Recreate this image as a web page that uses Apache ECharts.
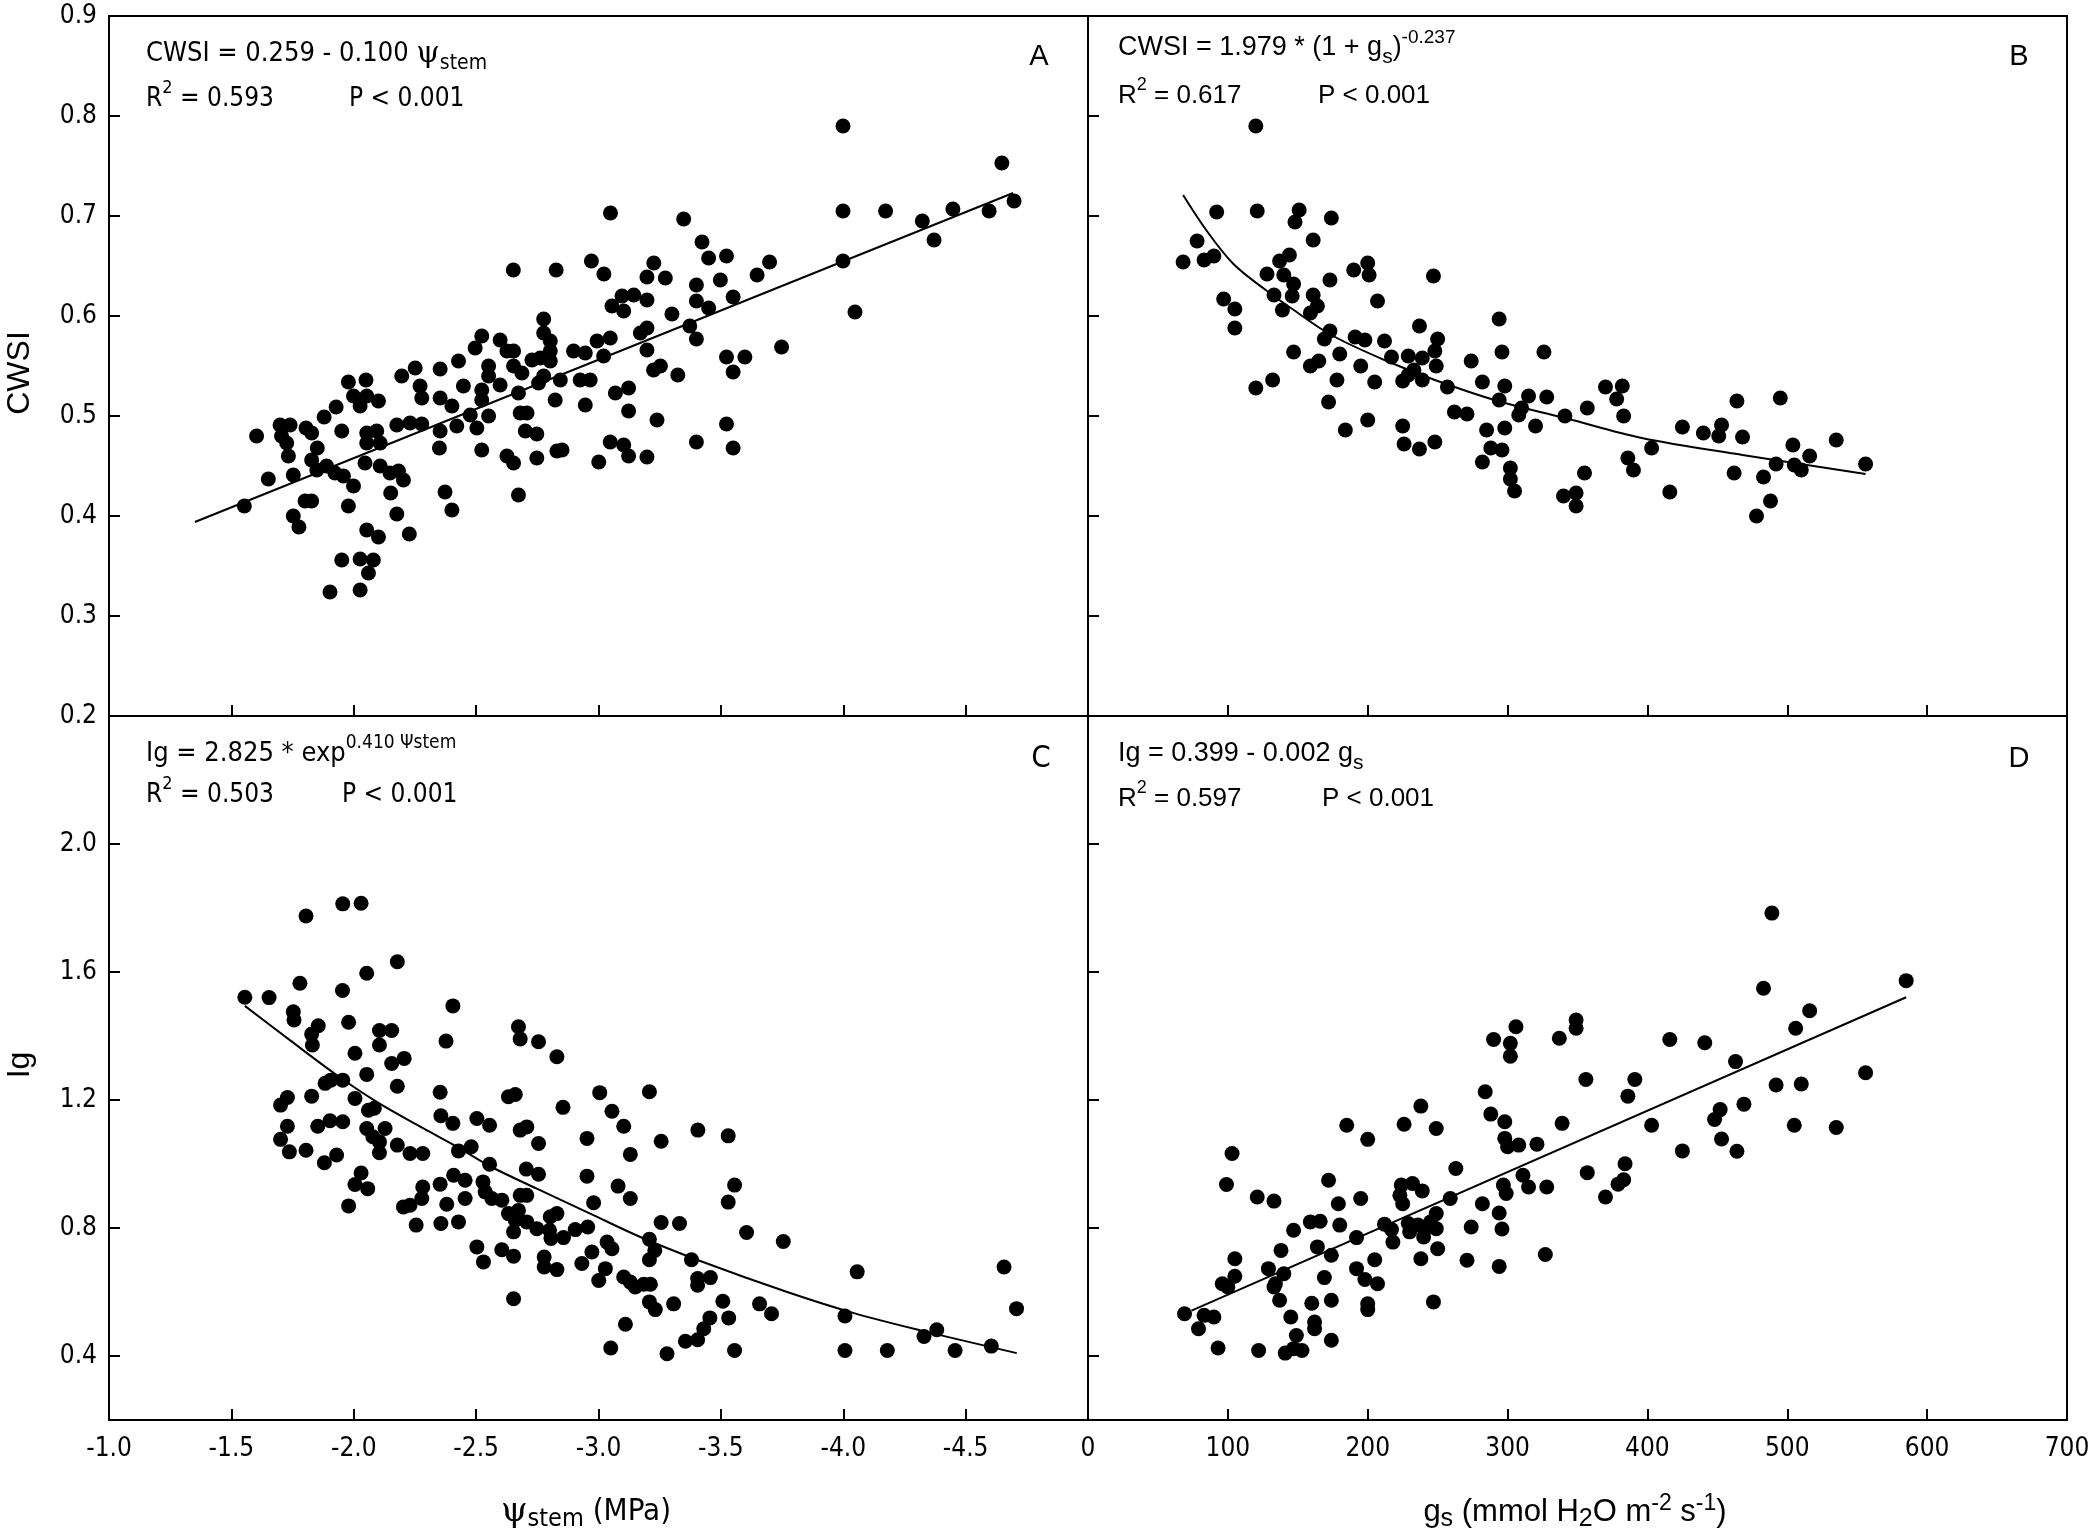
<!DOCTYPE html>
<html>
<head>
<meta charset="utf-8">
<title>CWSI and Ig vs stem water potential and stomatal conductance</title>
<script src="https://cdn.jsdelivr.net/npm/echarts@6/dist/echarts.min.js"></script>
<style>
html, body { margin: 0; padding: 0; background: #fff; }
#allchart { width: 2088px; height: 1536px; }
</style>
</head>
<body>
<div id="allchart"></div>
<script>
// ---- data ----
// A: CWSI vs stem water potential (MPa)
var ptsA = [
  [-1.553,0.410],[-1.603,0.480],[-1.651,0.437],[-1.699,0.491],[-1.705,0.480],[-1.726,0.473],[-1.740,0.491],[-1.733,0.460],
  [-1.753,0.441],[-1.753,0.400],[-1.776,0.389],[-1.801,0.415],[-1.828,0.415],[-1.805,0.488],[-1.828,0.483],[-1.851,0.468],
  [-1.828,0.456],[-1.849,0.446],[-1.879,0.499],[-1.889,0.450],[-1.928,0.509],[-1.951,0.485],[-1.923,0.443],[-1.958,0.440],
  [-1.978,0.410],[-1.951,0.356],[-1.903,0.324],[-1.978,0.534],[-1.999,0.520],[-2.026,0.510],[-2.050,0.536],[-2.053,0.520],
  [-2.101,0.515],[-1.999,0.430],[-2.053,0.386],[-2.101,0.379],[-2.026,0.357],[-2.080,0.356],[-2.060,0.343],[-2.026,0.326],
  [-2.053,0.483],[-2.094,0.485],[-2.053,0.473],[-2.108,0.473],[-2.046,0.453],[-2.108,0.450],[-2.148,0.443],[-2.183,0.445],
  [-2.203,0.436],[-2.151,0.423],[-2.176,0.402],[-2.227,0.382],[-2.176,0.491],[-2.230,0.493],[-2.278,0.492],[-2.196,0.540],
  [-2.251,0.548],[-2.271,0.530],[-2.278,0.518],[-2.353,0.547],[-2.428,0.555],[-2.353,0.518],[-2.401,0.510],[-2.448,0.530],
  [-2.353,0.485],[-2.421,0.490],[-2.350,0.468],[-2.373,0.424],[-2.401,0.406],[-2.496,0.568],[-2.523,0.580],[-2.551,0.550],
  [-2.551,0.540],[-2.523,0.526],[-2.523,0.516],[-2.598,0.531],[-2.476,0.501],[-2.551,0.500],[-2.503,0.488],[-2.523,0.466],
  [-2.598,0.576],[-2.626,0.565],[-2.653,0.565],[-2.653,0.550],[-2.687,0.543],[-2.673,0.523],[-2.680,0.503],[-2.708,0.503],
  [-2.701,0.485],[-2.748,0.482],[-2.626,0.460],[-2.653,0.453],[-2.673,0.421],[-2.748,0.458],[-2.728,0.556],[-2.762,0.558],
  [-2.776,0.597],[-2.776,0.583],[-2.803,0.575],[-2.803,0.565],[-2.803,0.555],[-2.776,0.540],[-2.755,0.533],[-2.844,0.536],
  [-2.823,0.516],[-2.830,0.465],[-2.851,0.466],[-2.898,0.565],[-2.946,0.563],[-2.925,0.536],[-2.966,0.536],[-2.946,0.511],
  [-2.994,0.575],[-3.048,0.578],[-3.021,0.560],[-3.001,0.454],[-3.048,0.474],[-3.103,0.471],[-3.123,0.460],[-3.198,0.459],
  [-3.069,0.523],[-3.123,0.528],[-3.123,0.505],[-3.239,0.496],[-3.171,0.583],[-3.198,0.588],[-3.198,0.566],[-3.225,0.546],
  [-3.055,0.610],[-3.096,0.620],[-3.103,0.605],[-3.144,0.621],[-3.198,0.616],
  [-3.198,0.639],[-3.226,0.653],[-3.273,0.638],[-3.253,0.550],[-3.300,0.602],[-3.324,0.541],[-3.348,0.697],[-3.373,0.590],
  [-3.400,0.577],[-3.400,0.631],[-3.400,0.615],[-3.423,0.674],[-3.450,0.658],[-3.450,0.608],[-3.498,0.636],[-3.523,0.660],
  [-3.550,0.619],[-3.523,0.559],[-3.598,0.559],[-3.550,0.544],[-3.400,0.474],[-3.523,0.492],[-3.550,0.468],[-3.648,0.641],
  [-3.699,0.654],[-3.748,0.569],[-3.999,0.790],[-3.999,0.705],[-3.999,0.655],[-4.048,0.604],[-4.173,0.705],[-4.323,0.695],
  [-4.371,0.676],[-4.448,0.707],[-4.596,0.705],[-4.648,0.753],[-4.698,0.715],
  [-2.652,0.646],[-2.827,0.646],[-2.971,0.655],[-3.022,0.642],[-3.049,0.703]
];
var fitA = [[-1.351,0.394],[-4.694,0.723]];

// B: CWSI vs gs (mmol H2O m-2 s-1)
var ptsB = [
  [120,0.790],[68,0.654],[78,0.675],[83,0.656],[90,0.660],[92,0.704],[97,0.617],[105,0.607],[105,0.588],[121,0.705],
  [120,0.528],[132,0.536],[128,0.642],[137,0.655],[144,0.661],[140,0.641],[147,0.632],[133,0.621],[139,0.606],[146,0.620],
  [151,0.706],[148,0.694],[161,0.676],[174,0.698],[173,0.636],[161,0.621],[164,0.610],[159,0.603],[147,0.564],[159,0.550],
  [165,0.555],[173,0.585],[169,0.577],[180,0.562],[178,0.536],[172,0.514],[184,0.486],[190,0.646],[200,0.653],[201,0.641],
  [207,0.615],[191,0.579],[198,0.576],[195,0.550],[205,0.534],[200,0.496],[212,0.575],[217,0.559],[229,0.560],[225,0.535],
  [225,0.490],[226,0.472],[237,0.467],[248,0.474],[237,0.590],[247,0.640],[250,0.577],[248,0.565],[239,0.558],[249,0.550],
  [233,0.546],[239,0.536],[229,0.541],[257,0.529],[262,0.504],[271,0.502],[274,0.555],[282,0.534],[285,0.486],[294,0.597],
  [296,0.564],[298,0.530],[294,0.516],[298,0.488],[288,0.468],[296,0.466],[282,0.454],[302,0.448],[302,0.437],[305,0.425],
  [315,0.520],[310,0.508],[308,0.501],[320,0.490],[326,0.564],[328,0.519],[341,0.500],[340,0.420],
  [357,0.508],[370,0.529],[382,0.530],[378,0.517],[383,0.500],[355,0.443],[386,0.458],[390,0.446],[403,0.468],[349,0.423],
  [349,0.410],[416,0.424],[425,0.489],[440,0.483],[453,0.491],[451,0.480],[464,0.515],[468,0.479],[462,0.443],[483,0.439],
  [478,0.400],[488,0.415],[495,0.518],[492,0.452],[504,0.471],[505,0.451],[510,0.446],[516,0.460],[535,0.476],[556,0.452]
];
var fitB = [[68,0.721],[85,0.685],[104,0.652],[128,0.625],[145,0.608],[174,0.581],[212,0.556],[248,0.536],[293,0.515],
  [341,0.498],[396,0.478],[468,0.461],[556,0.442]];

// C: Ig vs stem water potential (MPa)
var ptsC = [
  [-1.555,1.521],[-1.654,1.520],[-1.780,1.565],[-1.805,1.775],[-1.955,1.813],[-2.030,1.815],[-2.178,1.632],[-2.053,1.596],
  [-1.954,1.542],[-1.753,1.476],[-1.756,1.450],[-1.855,1.432],[-1.828,1.406],[-1.831,1.372],[-1.979,1.443],[-2.105,1.417],
  [-2.155,1.417],[-2.105,1.372],[-2.005,1.346],[-2.155,1.314],[-2.206,1.330],[-2.053,1.280],[-2.178,1.243],[-2.405,1.494],
  [-2.377,1.384],[-2.673,1.429],[-2.680,1.391],[-2.755,1.382],[-2.830,1.335],[-1.883,1.252],[-1.906,1.262],[-1.955,1.262],
  [-1.729,1.208],[-1.701,1.184],[-1.828,1.212],[-2.005,1.205],[-2.060,1.168],[-2.084,1.174],[-1.729,1.118],[-1.701,1.077],
  [-1.737,1.038],[-1.805,1.043],[-1.853,1.118],[-1.903,1.135],[-1.955,1.132],[-2.053,1.111],[-2.128,1.111],[-2.078,1.085],
  [-2.105,1.069],[-2.105,1.035],[-1.880,1.004],[-1.930,1.028],[-2.178,1.059],[-2.230,1.033],[-2.282,1.033],[-2.030,0.972],
  [-2.005,0.936],[-2.057,0.923],[-1.979,0.869],[-2.353,1.224],[-2.356,1.151],[-2.405,1.127],[-2.503,1.142],[-2.555,1.121],
  [-2.632,1.210],[-2.660,1.217],[-2.680,1.106],[-2.707,1.116],[-2.755,1.064],[-2.855,1.177],[-3.005,1.223],[-3.055,1.165],
  [-3.103,1.118],[-2.953,1.080],[-3.130,1.030],[-2.428,1.041],[-2.480,1.054],[-2.555,0.999],[-2.705,0.984],[-2.755,0.968],
  [-2.953,0.962],[-3.080,0.931],[-3.130,0.892],[-2.980,0.879],[-2.282,0.928],[-2.278,0.892],[-2.203,0.866],[-2.230,0.871],
  [-2.353,0.937],[-2.408,0.965],[-2.455,0.949],[-2.455,0.892],[-2.380,0.874],[-2.255,0.809],[-2.356,0.814],[-2.428,0.819],
  [-2.528,0.944],[-2.537,0.913],[-2.564,0.892],[-2.605,0.887],[-2.680,0.902],[-2.707,0.902],[-2.632,0.845],[-2.673,0.855],
  [-2.660,0.824],[-2.653,0.788],[-2.707,0.819],[-2.748,0.798],[-2.800,0.793],[-2.803,0.835],[-2.830,0.845],[-2.806,0.767],
  [-2.857,0.770],[-2.905,0.795],[-2.956,0.803],[-2.503,0.741],[-2.530,0.694],[-2.605,0.732],[-2.653,0.712],[-2.778,0.709],
  [-2.778,0.678],[-2.830,0.670],[-2.932,0.689],[-2.973,0.725],[-3.035,0.756],[-3.055,0.735],[-3.028,0.673],[-3.001,0.636],
  [-3.103,0.647],[-3.130,0.631],[-2.653,0.579],[-3.150,0.616],[-3.050,0.425],
  [-3.208,1.226],[-3.256,1.071],[-3.406,1.106],[-3.530,1.088],[-3.556,0.934],[-3.530,0.881],[-3.256,0.817],[-3.331,0.814],
  [-3.605,0.786],[-3.755,0.758],[-3.208,0.765],[-3.230,0.730],[-3.208,0.701],[-3.380,0.701],[-3.185,0.624],[-3.212,0.624],
  [-3.405,0.642],[-3.457,0.645],[-3.405,0.621],[-3.208,0.569],[-3.232,0.545],[-3.307,0.563],[-3.508,0.571],[-3.532,0.519],
  [-3.455,0.519],[-3.430,0.485],[-3.405,0.451],[-3.355,0.446],[-3.280,0.407],[-3.556,0.417],[-3.110,0.499],[-3.658,0.563],
  [-3.707,0.532],[-4.057,0.663],[-4.007,0.525],[-4.007,0.417],[-4.180,0.417],[-4.330,0.461],[-4.382,0.482],[-4.457,0.417],
  [-4.605,0.431],[-4.657,0.678],[-4.708,0.548]
];
var fitC = [[-1.555,1.494],[-1.739,1.387],[-1.930,1.278],[-2.094,1.194],[-2.285,1.111],[-2.421,1.054],[-2.557,0.993],
  [-2.748,0.923],[-2.966,0.845],[-3.171,0.772],[-3.416,0.697],[-3.771,0.600],[-4.044,0.534],[-4.316,0.480],[-4.709,0.409]];

// D: Ig vs gs (mmol H2O m-2 s-1)
var ptsD = [
  [69,0.532],[83,0.527],[90,0.522],[79,0.485],[93,0.425],[122,0.417],[103,1.033],[99,0.936],[105,0.704],[105,0.649],
  [96,0.626],[100,0.616],[121,0.897],[133,0.884],[129,0.673],[138,0.730],[140,0.657],[134,0.626],[133,0.616],[137,0.574],
  [145,0.522],[149,0.464],[141,0.409],[147,0.423],[153,0.417],[162,0.506],[162,0.485],[174,0.449],[160,0.565],[174,0.574],
  [147,0.793],[159,0.819],[166,0.821],[164,0.741],[174,0.715],[169,0.645],[172,0.949],[179,0.876],[180,0.809],[185,1.121],
  [192,0.770],[195,0.892],[200,1.077],[192,0.673],[198,0.639],[207,0.626],[205,0.701],[200,0.563],[200,0.545],[212,0.812],
  [217,0.795],[218,0.756],[226,1.124],[238,1.181],[249,1.111],[224,0.934],[232,0.939],[239,0.916],[223,0.902],[225,0.876],
  [229,0.814],[230,0.788],[236,0.809],[241,0.798],[240,0.772],[245,0.819],[249,0.845],[249,0.798],[238,0.704],[250,0.735],
  [247,0.569],[259,0.892],[263,0.986],[271,0.699],[274,0.803],[282,0.876],[284,1.226],[288,1.156],[298,1.132],[298,1.080],
  [300,1.054],[308,1.059],[321,1.062],[290,1.389],[302,1.377],[302,1.337],[306,1.429],[337,1.393],[339,1.127],[294,0.847],
  [296,0.797],[294,0.680],[297,0.934],[299,0.908],[311,0.965],[315,0.928],[328,0.928],[327,0.717],
  [349,1.450],[349,1.424],[356,1.264],[357,0.973],[370,0.897],[379,0.937],[383,0.951],[384,1.001],[386,1.212],[391,1.264],
  [403,1.121],[416,1.389],[425,1.041],[441,1.379],[448,1.139],[452,1.170],[453,1.078],[464,1.040],[463,1.320],[469,1.187],
  [483,1.549],[489,1.784],[492,1.247],[505,1.121],[506,1.424],[510,1.250],[516,1.479],[535,1.114],[556,1.285],[585,1.573]
];
var fitD = [[74,0.542],[585,1.521]];

var igTicks = [0.4, 0.8, 1.2, 1.6, 2.0];

// ---- styling ----
var narrow = '"Liberation Sans Narrow", "Arial Narrow", "DejaVu Sans Condensed", sans-serif';
var plain = '"Liberation Sans", Arial, sans-serif';
var black = '#000';

var tick = { inside: true, length: 11, lineStyle: { color: black, width: 2 } };
var label = { color: black, fontSize: 26, fontFamily: narrow };

// rich text pieces for sub/superscripts
function richOf(font, size) {
  return {
    m: { fontFamily: font, fontSize: size, lineHeight: 40, verticalAlign: 'middle', color: black },
    g: { fontFamily: '"DejaVu Serif", serif', fontSize: size + 3, lineHeight: 40, verticalAlign: 'middle', color: black },
    s: { fontFamily: font, fontSize: size - 6, lineHeight: 20, verticalAlign: 'bottom', color: black },
    u: { fontFamily: font, fontSize: size - 8, lineHeight: 20, verticalAlign: 'top', color: black }
  };
}
function txt(x, y, text, font, size, align, rot) {
  return {
    type: 'text', x: x, y: y, rotation: rot || 0, silent: true,
    style: { text: text, rich: richOf(font, size), align: align || 'left', verticalAlign: 'middle' }
  };
}

var option = {
  backgroundColor: '#fff',
  animation: false,
  grid: [
    { left: 109, top: 16, width: 979, height: 700 },
    { left: 1088, top: 16, width: 979, height: 700 },
    { left: 109, top: 716, width: 979, height: 704 },
    { left: 1088, top: 716, width: 979, height: 704 }
  ].map(function (g) {
    g.show = true; g.borderColor = black; g.borderWidth = 2; g.containLabel = false; g.outerBoundsMode = 'none';
    return g;
  }),
  xAxis: [{
    gridIndex: 0, type: 'value', inverse: true, min: -5, max: -1, interval: 0.5,
    axisLine: { show: false }, axisTick: tick, axisLabel: { show: false }, splitLine: { show: false }
  }, {
    gridIndex: 1, type: 'value', min: 0, max: 700, interval: 100,
    axisLine: { show: false }, axisTick: tick, axisLabel: { show: false }, splitLine: { show: false }
  }, {
    gridIndex: 2, type: 'value', inverse: true, min: -5, max: -1, interval: 0.5,
    axisLine: { show: false }, axisTick: tick, splitLine: { show: false },
    axisLabel: Object.assign({ margin: 16, formatter: function (v) { return v === -5 ? '' : v.toFixed(1); } }, label)
  }, {
    gridIndex: 3, type: 'value', min: 0, max: 700, interval: 100,
    axisLine: { show: false }, axisTick: tick, splitLine: { show: false },
    axisLabel: Object.assign({ margin: 16 }, label)
  }],
  yAxis: [{
    gridIndex: 0, type: 'value', min: 0.2, max: 0.9, interval: 0.1,
    axisLine: { show: false }, axisTick: tick, splitLine: { show: false },
    axisLabel: Object.assign({ margin: 12, formatter: function (v) { return v.toFixed(1); } }, label)
  }, {
    gridIndex: 1, type: 'value', min: 0.2, max: 0.9, interval: 0.1,
    axisLine: { show: false }, axisTick: tick, axisLabel: { show: false }, splitLine: { show: false }
  }, {
    gridIndex: 2, type: 'value', min: 0.2, max: 2.4, interval: 0.2,
    axisLine: { show: false }, splitLine: { show: false },
    axisTick: Object.assign({ customValues: igTicks }, tick),
    axisLabel: Object.assign({ margin: 12, customValues: igTicks, formatter: function (v) { return v.toFixed(1); } }, label)
  }, {
    gridIndex: 3, type: 'value', min: 0.2, max: 2.4, interval: 0.2,
    axisLine: { show: false }, splitLine: { show: false },
    axisTick: Object.assign({ customValues: igTicks }, tick),
    axisLabel: { show: false }
  }],
  series: [ptsA, ptsB, ptsC, ptsD].map(function (pts, i) {
    return {
      type: 'scatter', xAxisIndex: i, yAxisIndex: i, data: pts,
      symbol: 'circle', symbolSize: 15, itemStyle: { color: black, opacity: 1 }, silent: true, z: 3
    };
  }).concat([fitA, fitB, fitC, fitD].map(function (fit, i) {
    return {
      type: 'line', xAxisIndex: i, yAxisIndex: i, data: fit, showSymbol: false,
      smooth: (i === 1 || i === 2) ? 0.35 : false,
      lineStyle: { color: black, width: 2 }, silent: true, z: 2
    };
  })),
  graphic: [
    // panel A
    txt(146, 54, '{m|CWSI = 0.259 - 0.100 }{g|ψ}{s|stem}', narrow, 27),
    txt(146, 99, '{m|R}{u|2}{m| = 0.593}', narrow, 26),
    txt(349, 99, '{m|P < 0.001}', narrow, 26),
    txt(1039, 57, '{m|A}', plain, 29, 'center'),
    // panel B
    txt(1118, 48, '{m|CWSI = 1.979 * (1 + g}{s|s}{m|)}{u|-0.237}', plain, 27),
    txt(1118, 96, '{m|R}{u|2}{m| = 0.617}', plain, 26),
    txt(1318, 96, '{m|P < 0.001}', plain, 26),
    txt(2019, 57, '{m|B}', plain, 29, 'center'),
    // panel C
    txt(146, 754, '{m|Ig = 2.825 * exp}{u|0.410 Ψstem}', narrow, 27),
    txt(146, 795, '{m|R}{u|2}{m| = 0.503}', narrow, 26),
    txt(342, 795, '{m|P < 0.001}', narrow, 26),
    txt(1041, 759, '{m|C}', narrow, 31, 'center'),
    // panel D
    txt(1118, 754, '{m|Ig = 0.399 - 0.002 g}{s|s}', plain, 27),
    txt(1118, 799, '{m|R}{u|2}{m| = 0.597}', plain, 26),
    txt(1322, 799, '{m|P < 0.001}', plain, 26),
    txt(2019, 759, '{m|D}', plain, 29, 'center'),
    // axis titles
    txt(20, 373, '{m|CWSI}', plain, 32, 'center', Math.PI / 2),
    txt(20, 1065, '{m|Ig}', plain, 32, 'center', Math.PI / 2),
    txt(586, 1512, '{g|ψ}{s|stem}{m| (MPa)}', narrow, 31, 'center'),
    txt(1575, 1512, '{m|g}{s|s}{m| (mmol H}{s|2}{m|O m}{u|-2}{m| s}{u|-1}{m|)}', plain, 31, 'center')
  ]
};

var chart = echarts.init(document.getElementById('allchart'));
chart.setOption(option);
</script>
</body>
</html>
